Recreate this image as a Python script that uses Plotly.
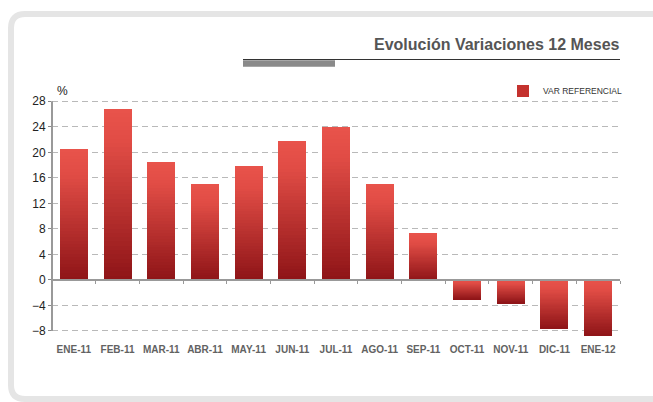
import plotly.graph_objects as go

# ---------------- data ----------------
categories = ["ENE-11", "FEB-11", "MAR-11", "ABR-11", "MAY-11", "JUN-11", "JUL-11",
              "AGO-11", "SEP-11", "OCT-11", "NOV-11", "DIC-11", "ENE-12"]
var_referencial = [20.5, 26.8, 18.5, 15.0, 17.9, 21.8, 23.9, 15.1, 7.25, -3.1, -3.7, -7.7, -8.8]
y_tick_values = [-8, -4, 0, 4, 8, 12, 16, 20, 24, 28]
series_name = "VAR REFERENCIAL"
title_text = "Evolución Variaciones 12 Meses"
unit_label = "%"

# ---------------- layout constants ----------------
W, H = 653, 402
ML, MR, MT, MB = 52, 33, 100, 65
YMIN, YMAX = -8.95, 28.2
PW, PH = W - ML - MR, H - MT - MB

FONT = "Liberation Sans, Arial, Helvetica, sans-serif"

def px2x(px):
    return (px - ML) / PW

def px2y(py):
    return (H - MB - py) / PH

LIGHT = (233, 83, 75)
MID = (224, 76, 69)
DARK = (142, 20, 23)

def grad(t):
    # t = 0 at top of bar (light) ... 1 at bottom (dark)
    if t < 0.2:
        a, b, f = LIGHT, MID, t / 0.2
    else:
        a, b, f = MID, DARK, (t - 0.2) / 0.8
    c = [round(a[i] + (b[i] - a[i]) * f) for i in range(3)]
    return "rgb(%d,%d,%d)" % tuple(c)

N = 40
fig = go.Figure()
for k in range(N):
    ys = [v / N for v in var_referencial]
    bases = [v * k / N for v in var_referencial]
    cols = []
    for v in var_referencial:
        if v >= 0:
            t = 1 - (k + 0.5) / N
        else:
            t = (k + 0.5) / N
        cols.append(grad(t))
    fig.add_trace(go.Bar(
        x=categories, y=ys, base=bases,
        marker=dict(color=cols, line=dict(width=0)),
        showlegend=False, hoverinfo="skip",
        xaxis="x", yaxis="y",
    ))

# legend entry
fig.add_trace(go.Bar(
    x=[categories[0]], y=[None], name=series_name,
    marker=dict(color="rgb(196,50,46)", line=dict(width=0)),
    showlegend=True, hoverinfo="skip",
))

# helper trace so the zero axis (ticks at category boundaries) is drawn
fig.add_trace(go.Scatter(
    x=categories, y=var_referencial, mode="markers",
    marker=dict(opacity=0, size=1), showlegend=False, hoverinfo="skip",
    xaxis="x2", yaxis="y",
))

zero_pos = (0 - YMIN) / (YMAX - YMIN)

fig.update_layout(
    width=W, height=H,
    margin=dict(l=ML, r=MR, t=MT, b=MB, autoexpand=False),
    paper_bgcolor="white", plot_bgcolor="white",
    barmode="overlay", bargap=0.36,
    font=dict(family=FONT, color="#222"),
    xaxis=dict(
        type="category", categoryorder="array", categoryarray=categories,
        range=[-0.5, len(categories) - 0.5],
        showgrid=False, zeroline=False, showline=False, ticks="",
        tickangle=0,
        tickfont=dict(family=FONT, size=10, color="#626262", weight="bold"),
        ticklabelstandoff=5,
    ),
    xaxis2=dict(
        type="category", categoryorder="array", categoryarray=categories,
        range=[-0.5, len(categories) - 0.5],
        overlaying="x", anchor="free", position=zero_pos,
        showgrid=False, zeroline=False, showticklabels=False,
        showline=True, linecolor="#999", linewidth=2,
        ticks="outside", tickson="boundaries", ticklen=3, tickcolor="#999", tickwidth=1,
    ),
    yaxis=dict(
        range=[YMIN, YMAX], tickvals=y_tick_values,
        showgrid=True, gridcolor="#b9b9b9", gridwidth=1, griddash="6px,4px",
        zeroline=False, showline=False,
        ticks="outside", ticklen=3, tickcolor="#888", tickwidth=1,
        tickfont=dict(family=FONT, size=12, color="#222"),
    ),
    legend=dict(
        x=1 + 7 / PW, xanchor="right", y=px2y(91), yanchor="middle",
        bgcolor="rgba(0,0,0,0)", borderwidth=0,
        font=dict(family=FONT, size=8.5, color="#333"),
        itemsizing="constant",
    ),
    showlegend=True,
)

# y axis line from the lowest to the highest tick
fig.add_shape(type="line", xref="paper", yref="y", x0=0, x1=0,
              y0=min(y_tick_values), y1=max(y_tick_values),
              line=dict(color="#999", width=2), layer="above")

# title and decorative rules
fig.add_annotation(text=title_text, xref="paper", yref="paper", x=1 + 2 / PW, y=px2y(45),
                   xanchor="right", yanchor="middle", showarrow=False,
                   font=dict(family=FONT, size=16, color="#555", weight="bold"))
fig.add_shape(type="line", xref="paper", yref="paper",
              x0=px2x(243), x1=1, y0=px2y(59.5), y1=px2y(59.5),
              line=dict(color="#333", width=1))
fig.add_shape(type="rect", xref="paper", yref="paper",
              x0=px2x(243), x1=px2x(335), y0=px2y(60.2), y1=px2y(66.7),
              fillcolor="#8a8a8a", line=dict(width=0))

# unit label
fig.add_annotation(text=unit_label, xref="paper", yref="paper", x=px2x(55), y=px2y(91),
                   xanchor="left", yanchor="middle", showarrow=False,
                   font=dict(family=FONT, size=12, color="#222"))

# rounded frame
fx, fy, fb, r = 11, 14, 399, 14
path = ("M %f,%f L %f,%f Q %f,%f %f,%f L %f,%f Q %f,%f %f,%f L %f,%f" % (
    px2x(W + 10), px2y(fy),
    px2x(fx + r), px2y(fy),
    px2x(fx), px2y(fy), px2x(fx), px2y(fy + r),
    px2x(fx), px2y(fb - r),
    px2x(fx), px2y(fb), px2x(fx + r), px2y(fb),
    px2x(W + 10), px2y(fb)))
fig.add_shape(type="path", xref="paper", yref="paper", path=path,
              line=dict(color="#e5e5e5", width=6), layer="below")

post = (
    "document.body.style.margin='0';"
    "document.body.style.overflow='hidden';"
    "document.querySelectorAll('.barlayer .point path').forEach(function(p){"
    "p.style.shapeRendering='crispEdges';});"
)
fig.write_html("out.html", config={"displayModeBar": False}, post_script=post)
